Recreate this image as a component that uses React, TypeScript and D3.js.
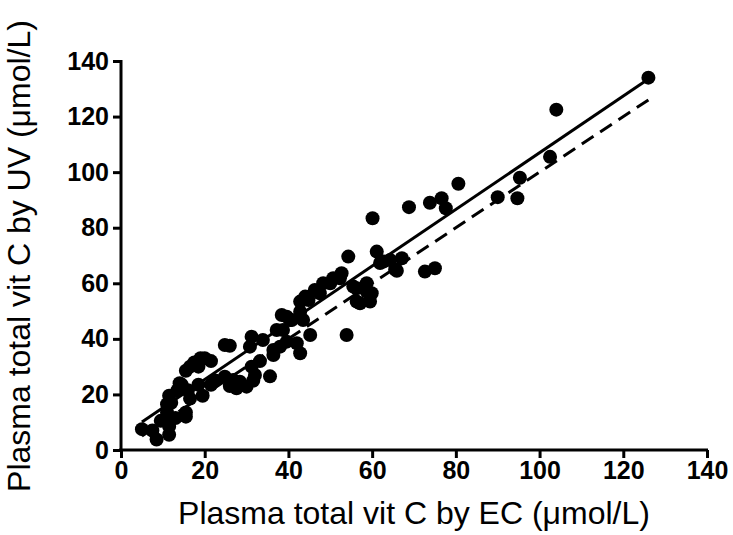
import { useEffect, useRef } from 'react';
import * as d3 from 'd3';

// EC method (x) vs UV method (y), µmol/L
const ecValues = [
    5, 7.5, 8.5, 11.5, 11.5, 9.5, 13, 15.5, 15.5, 11, 11, 12, 11.5, 13.5, 14.5, 16.5, 19.5, 18.5, 21.5, 14,
    16, 15.5, 16.5, 17.5, 18.5, 19, 20, 21.5, 22.5, 24.8, 26, 26.8, 27.6, 28.4, 24.8, 26, 30, 31.6, 32, 31.2,
    33.2, 30.8, 31.2, 33.9, 35.6, 36.4, 36.4, 37.2, 38, 38.4, 39.6, 39.6, 40.4, 38.7, 40.8, 42, 42.8, 42.8, 42.8, 43.5,
    44, 44.8, 45.2, 46.3, 47.5, 48.3, 50, 50.7, 52.3, 52.7, 53.9, 54.3, 55.5, 56.3, 56.3, 57.1, 58.7, 58.7, 59.5, 59.9,
    60.1, 61.1, 61.9, 62.7, 64.3, 65.5, 65.9, 67.1, 68.8, 72.6, 73.8, 75, 76.6, 77.6, 80.6, 90, 94.7, 95.3, 102.5, 104,
    126
];
const uvValues = [
    7.5, 7, 3.8, 5.5, 8.5, 10.5, 11.5, 12, 13.5, 13.5, 16.5, 17, 19.5, 21.5, 23.5, 18.5, 19.5, 23.5, 23.5, 24,
    21.5, 28.5, 30, 31.5, 30, 33, 33, 32, 25, 26.4, 23, 25.2, 22.2, 24.6, 37.8, 37.5, 22.8, 25, 27, 30,
    32, 37.2, 40.8, 39.6, 26.5, 34.2, 36, 43.2, 37.2, 48.6, 39, 48, 46.8, 43.2, 46.8, 38.4, 34.8, 49.8, 53.4, 46.8,
    55.2, 54, 41.4, 57.6, 56.4, 60, 60, 61.8, 61.8, 63.6, 41.4, 69.6, 58.8, 58.2, 53.4, 52.8, 57, 60, 53.4, 56.4,
    83.4, 71.4, 67.3, 67.8, 68.4, 65, 64.5, 69, 87.4, 64.2, 89, 65.4, 90.6, 87, 95.8, 91, 90.6, 98, 105.5, 122.5,
    134
];
const tickValues = [0, 20, 40, 60, 80, 100, 120, 140];
// regression (solid) and line of identity (dashed)
const fitSlope = 1.02;
const fitIntercept = 5;
const identitySlope = 1;
const identityIntercept = 0;

const xTitle = 'Plasma total vit C by EC (μmol/L)';
const yTitle = 'Plasma total vit C by UV (μmol/L)';

const FONT = 'Liberation Sans, Arial, sans-serif';

export default function App() {
    const ref = useRef(null);

    useEffect(() => {
        const svg = d3.select(ref.current);
        svg.selectAll('*').remove();

        const x = d3.scaleLinear().domain([0, 140]).range([121, 707]);
        const y = d3.scaleLinear().domain([0, 140]).range([450, 61]);

        const points = ecValues.map((d, i) => ({ x: d, y: uvValues[i] }));
        const xMin = d3.min(ecValues);
        const xMax = d3.max(ecValues);

        // fitted lines
        const line = d3
            .line()
            .x((d) => x(d[0]))
            .y((d) => y(d[1]));
        const fit = [xMin, xMax].map((v) => [v, fitSlope * v + fitIntercept]);
        const ident = [xMin, xMax].map((v) => [v, identitySlope * v + identityIntercept]);

        // points
        svg.append('g')
            .selectAll('circle')
            .data(points)
            .join('circle')
            .attr('cx', (d) => x(d.x))
            .attr('cy', (d) => y(d.y))
            .attr('r', 7)
            .attr('fill', '#000');

        svg.append('path')
            .attr('d', line(ident))
            .attr('fill', 'none')
            .attr('stroke', '#000')
            .attr('stroke-width', 3)
            .attr('stroke-dasharray', '14,8');
        svg.append('path')
            .attr('d', line(fit))
            .attr('fill', 'none')
            .attr('stroke', '#000')
            .attr('stroke-width', 3);

        // axes
        const xAxis = d3.axisBottom(x).tickValues(tickValues).tickSize(8).tickPadding(3).tickSizeOuter(0);
        const yAxis = d3.axisLeft(y).tickValues(tickValues).tickSize(8).tickPadding(4).tickSizeOuter(0);

        const styleTicks = (g) =>
            g
                .selectAll('.tick text')
                .attr('font-size', 25)
                .attr('font-weight', 'bold')
                .attr('font-family', FONT)
                .attr('fill', '#000');

        svg.append('g')
            .attr('transform', 'translate(0,450)')
            .call(xAxis)
            .call((g) => g.select('.domain').attr('stroke-width', 3).attr('d', 'M119,0H708'))
            .call((g) => g.selectAll('.tick line').attr('stroke-width', 3))
            .call(styleTicks);

        svg.append('g')
            .attr('transform', 'translate(121,0)')
            .call(yAxis)
            .call((g) => g.select('.domain').attr('stroke-width', 3).attr('d', 'M0,451V60'))
            .call((g) => g.selectAll('.tick line').attr('stroke-width', 3))
            .call(styleTicks);

        // titles
        svg.append('text')
            .attr('x', 414)
            .attr('y', 524)
            .attr('text-anchor', 'middle')
            .attr('font-size', 32)
            .attr('font-family', FONT)
            .text(xTitle);

        svg.append('text')
            .attr('transform', 'translate(30,256) rotate(-90)')
            .attr('text-anchor', 'middle')
            .attr('font-size', 32)
            .attr('font-family', FONT)
            .text(yTitle);
    }, []);

    return (
        <svg
            ref={ref}
            width={733}
            height={535}
            style={{ position: 'absolute', left: 0, top: 0, background: '#fff' }}
        />
    );
}
